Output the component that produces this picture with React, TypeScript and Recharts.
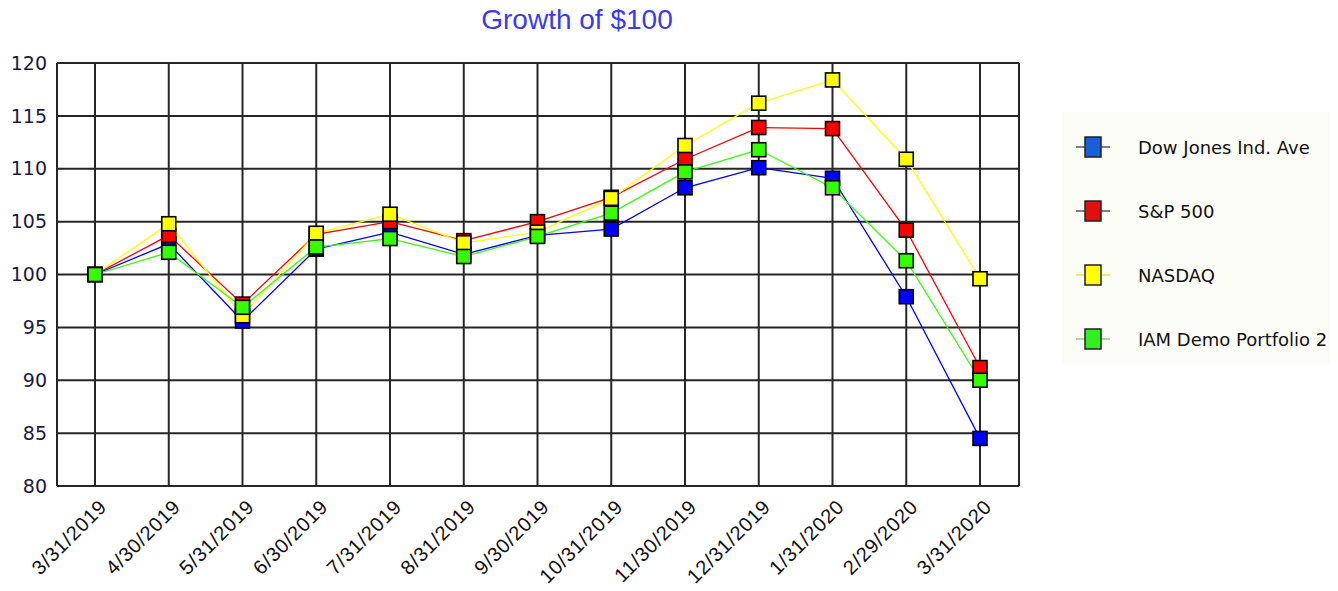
import { CartesianGrid, Line, LineChart, XAxis, YAxis } from 'recharts';

const categories = [
  '3/31/2019', '4/30/2019', '5/31/2019', '6/30/2019', '7/31/2019', '8/31/2019', '9/30/2019',
  '10/31/2019', '11/30/2019', '12/31/2019', '1/31/2020', '2/29/2020', '3/31/2020',
];

const dowJones = [100, 102.9, 95.6, 102.4, 104.0, 101.9, 103.7, 104.3, 108.2, 110.1, 109.1, 97.9, 84.5];
const sp500 = [100, 103.7, 97.2, 103.8, 105.0, 103.2, 105.0, 107.3, 110.9, 113.9, 113.8, 104.2, 91.2];
const nasdaq = [100, 104.8, 96.1, 103.9, 105.7, 103.0, 104.0, 107.2, 112.2, 116.2, 118.4, 110.9, 99.6];
const iamDemo = [100, 102.1, 96.9, 102.6, 103.4, 101.7, 103.6, 105.8, 109.7, 111.8, 108.2, 101.3, 90.0];

const yTicks = [80, 85, 90, 95, 100, 105, 110, 115, 120];

const series = [
  { key: 'dow', name: 'Dow Jones Ind. Ave', values: dowJones, color: '#0000ff', legendColor: '#1b5fd8', legendLine: '#556' },
  { key: 'sp', name: 'S&P 500', values: sp500, color: '#ff0000', legendColor: '#e01010', legendLine: '#556' },
  { key: 'nasdaq', name: 'NASDAQ', values: nasdaq, color: '#ffff00', legendColor: '#ffff00', legendLine: '#e8e060' },
  { key: 'iam', name: 'IAM Demo Portfolio 2', values: iamDemo, color: '#33ff00', legendColor: '#33ee22', legendLine: '#8c8' },
];

const data = categories.map((date, i) => {
  const row: Record<string, string | number> = { date };
  series.forEach(s => { row[s.key] = s.values[i]; });
  return row;
});

const gridColor = '#262626';

function SquareDot(color: string) {
  return (props: any) => {
    const { cx, cy, index } = props;
    if (cx == null || cy == null) return <g key={index} />;
    return (
      <rect key={`${color}-${index}`} x={cx - 7} y={cy - 7} width={14} height={14}
        fill={color} stroke="#000" strokeWidth={1.6} />
    );
  };
}

function DateTick(props: any) {
  const { x, y, payload } = props;
  const ax = x + 13;
  const ay = y + 14;
  return (
    <text x={ax} y={ay} transform={`rotate(-45, ${ax}, ${ay})`} textAnchor="end"
      fontSize={20} fill="#111" fontFamily="'Liberation Sans', Arial, sans-serif" letterSpacing={0.8}>
      {payload.value}
    </text>
  );
}

function LegendBox() {
  return (
    <div style={{
      position: 'absolute', left: 1062, top: 112, width: 268, height: 252, background: '#fdfdf7',
      fontFamily: "'DejaVu Sans', Tahoma, sans-serif", fontSize: 18, color: '#111',
    }}>
      {series.map((s, i) => (
        <div key={s.key} style={{ position: 'absolute', left: 0, top: 20 + i * 64, height: 30, display: 'flex', alignItems: 'center' }}>
          <svg width={60} height={30} style={{ marginLeft: 12 }}>
            <line x1={2} y1={15} x2={36} y2={15} stroke={s.legendLine} strokeWidth={1.5} />
            <rect x={11} y={5} width={16} height={20} fill={s.legendColor} stroke="#222" strokeWidth={1.5} />
          </svg>
          <span style={{ marginLeft: 4 }}>{s.name}</span>
        </div>
      ))}
    </div>
  );
}

export default function App() {
  return (
    <div style={{ position: 'absolute', left: 0, top: 0, width: 1338, height: 591, background: '#fff' }}>
      <div style={{
        position: 'absolute', left: 427, top: 4, width: 300, textAlign: 'center',
        fontFamily: "'Liberation Sans', Arial, sans-serif", fontSize: 28, color: '#3a3af2',
      }}>
        Growth of $100
      </div>
      <LineChart width={1338} height={591} data={data} margin={{ top: 63, right: 319, bottom: 0, left: 0 }}>
        <CartesianGrid stroke={gridColor} strokeWidth={2} />
        <XAxis dataKey="date" height={105} axisLine={false} tickLine={false} interval={0}
          padding={{ left: 38, right: 39 }} tick={<DateTick />} />
        <YAxis type="number" domain={[80, 120]} ticks={yTicks} width={57} tickLine={false} tickSize={0} tickMargin={10}
          axisLine={{ stroke: gridColor, strokeWidth: 2 }}
          tick={{ fontSize: 19, fill: '#1a1a40', fontFamily: "'DejaVu Sans', Verdana, sans-serif" }} />
        <YAxis yAxisId="right" orientation="right" type="number" domain={[80, 120]} width={0} tick={false}
          tickLine={false} axisLine={{ stroke: gridColor, strokeWidth: 2 }} />
        {series.map(s => (
          <Line key={s.key} type="linear" dataKey={s.key} name={s.name} stroke={s.color} strokeWidth={1.3}
            dot={SquareDot(s.color)} activeDot={false} isAnimationActive={false} />
        ))}
      </LineChart>
      <LegendBox />
    </div>
  );
}
